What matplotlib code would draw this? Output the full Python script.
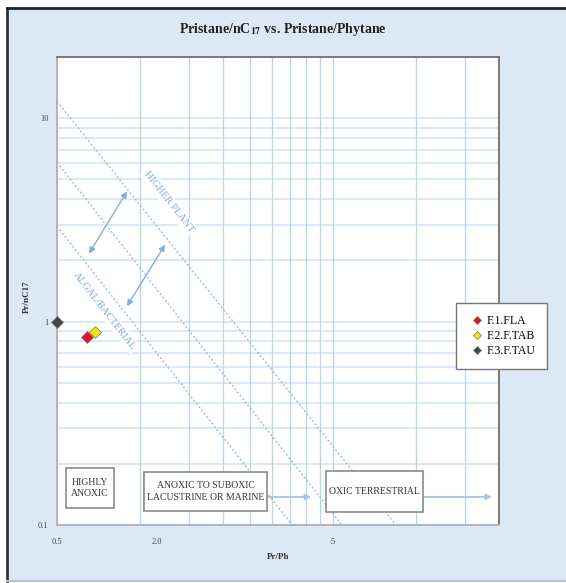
import matplotlib.pyplot as plt
from matplotlib.patches import Rectangle
from matplotlib.lines import Line2D

plt.rcParams['font.family'] = ['Liberation Serif', 'DejaVu Serif']
plt.rcParams['mathtext.fontset'] = 'stix'

# Samples (Pr/Ph, Pr/nC17)
samples = ["F.1.FLA", "F.2.F.TAB", "F.3.F.TAU"]
pr_ph = [0.642, 0.687, 0.5]
pr_nc17 = [0.84, 0.89, 1.0]
colors = ["#e3141c", "#f2e600", "#3f4a48"]

# dashed boundary lines: (x0, y0) -> (x1, y1) in data units
bound_x = [[0.5, 8.46], [0.5, 5.39], [0.5, 3.56]]
bound_y = [[12.1, 0.1], [6.07, 0.1], [2.94, 0.1]]

# double-headed arrows between the zones
arrows = [((0.653, 2.16), (0.897, 4.37)), ((0.897, 1.19), (1.232, 2.39))]

# grid positions
xgrid = [1, 1.5, 2, 2.5, 3, 3.5, 4, 4.5, 5, 10, 15]
ygrid = [d * m for d in (0.1, 1, 10) for m in range(1, 10)]

# tick labels as printed on the original
xticks = [0.5, 1.15, 5]
xticklabels = ["0.5", "2.0", "5"]
yticks = [0.1, 1, 10]
yticklabels = ["0.1", "1", "10"]

# environment boxes (axes fraction: x0, y0, x1, y1)
env_labels = ["HIGHLY\nANOXIC", "ANOXIC TO SUBOXIC\nLACUSTRINE OR MARINE", "OXIC TERRESTRIAL"]
env_boxes = [(0.020, 0.036, 0.129, 0.122), (0.197, 0.030, 0.475, 0.113),
             (0.609, 0.028, 0.828, 0.115)]
env_arrows = [(0.475, 0.575), (0.828, 0.984)]

bg = "#dce9f5"
fig = plt.figure(figsize=(5.66, 5.83), dpi=100)
fig.patch.set_facecolor("white")

# panel background with border
fig.add_artist(Rectangle((7 / 566, 2 / 583), 1.0, 573 / 583, transform=fig.transFigure,
                         facecolor=bg, edgecolor="none", zorder=-10))
fig.add_artist(Line2D([7 / 566, 7 / 566], [2 / 583, 575 / 583], color="#333333", lw=2.0,
                      zorder=-9))
fig.add_artist(Line2D([7 / 566, 1.0], [575 / 583, 575 / 583], color="#222222", lw=2.0,
                      zorder=-9))
fig.add_artist(Line2D([7 / 566, 1.0], [2 / 583, 2 / 583], color="#b8c4cf", lw=1.5,
                      zorder=-9))

ax = fig.add_axes([57 / 566, 58 / 583, 442 / 566, 468 / 583])
ax.set_facecolor("white")
ax.set_xscale("log")
ax.set_yscale("log")
ax.set_xlim(0.5, 20)
ax.set_ylim(0.1, 20)

for g in ygrid:
    ax.axhline(g, color="#dce8f5", lw=1.5, zorder=1)
for g in xgrid:
    ax.axvline(g, color="#bcd3ec", lw=0.9, zorder=1)

for bx, by in zip(bound_x, bound_y):
    ax.plot(bx, by, color="#9dbde0", lw=1.0, ls=(0, (1.5, 1.5)), zorder=2)

for (x0, y0), (x1, y1) in arrows:
    ax.annotate("", xy=(x1, y1), xytext=(x0, y0),
                arrowprops=dict(arrowstyle="<|-|>", color="#86ade0", lw=1.0,
                                mutation_scale=9, shrinkA=0, shrinkB=0), zorder=3)

ax.text(1.27, 3.86, "HIGHER PLANT", rotation=-52, color="#7fa7d8", fontsize=7.5,
        ha="center", va="center", rotation_mode="anchor", zorder=4,
        bbox=dict(facecolor="white", edgecolor="none", pad=1.5))
ax.text(0.744, 1.13, "ALGAL/BACTERIAL", rotation=-52, color="#7fa7d8", fontsize=7.5,
        ha="center", va="center", rotation_mode="anchor", zorder=4,
        bbox=dict(facecolor="white", edgecolor="none", pad=1.5))

for label, (x0, y0, x1, y1) in zip(env_labels, env_boxes):
    ax.add_patch(Rectangle((x0, y0), x1 - x0, y1 - y0, transform=ax.transAxes,
                           facecolor="white", edgecolor="#8a8a8a", lw=1.2, zorder=5))
    ax.text((x0 + x1) / 2, (y0 + y1) / 2, label, transform=ax.transAxes, fontsize=7,
            ha="center", va="center", linespacing=1.35, color="#333333", zorder=6)
for x0, x1 in env_arrows:
    ax.annotate("", xy=(x1, 0.060), xytext=(x0, 0.060), xycoords="axes fraction",
                arrowprops=dict(arrowstyle="-|>", color="#a9c6e8", lw=1.4,
                                mutation_scale=8, shrinkA=0, shrinkB=0), zorder=4)

for name, x, y, c in zip(samples, pr_ph, pr_nc17, colors):
    ax.plot(x, y, marker="D", ms=6, color=c, mec="#777777", mew=0.5, ls="none",
            label=name, clip_on=False, zorder=7)

ax.set_xticks(xticks)
ax.set_xticklabels(xticklabels)
ax.set_yticks(yticks)
ax.set_yticklabels(yticklabels)
ax.minorticks_off()
ax.tick_params(axis="both", length=0, labelsize=6, labelcolor="#444444")
ax.tick_params(axis="x", pad=9)
ax.tick_params(axis="y", pad=6)

for s in ("top", "right"):
    ax.spines[s].set_color("#666666")
    ax.spines[s].set_linewidth(1.2)
for s in ("left", "bottom"):
    ax.spines[s].set_color("#b5b5b5")
    ax.spines[s].set_linewidth(1.5)

leg = ax.legend(loc="upper left", bbox_to_anchor=(456 / 566, 1 - 303 / 583),
                bbox_transform=fig.transFigure, fontsize=8.5, frameon=True, fancybox=False,
                framealpha=1, edgecolor="#777777", handlelength=1.6, handletextpad=0.0,
                borderpad=1.0, borderaxespad=0, labelspacing=0.25, markerscale=0.75)
leg.get_frame().set_linewidth(1.0)
leg.set_zorder(10)

fig.text(0.5, 1 - 30 / 583, r"Pristane/nC$_\mathbf{17}$ vs. Pristane/Phytane", ha="center",
         va="center", fontsize=10, fontweight="bold", color="#222222")
fig.text(278 / 566, 1 - 557 / 583, "Pr/Ph", ha="center", va="center", fontsize=6.5,
         fontweight="bold", color="#333333")
fig.text(27 / 566, 1 - 297 / 583, "Pr/nC17", ha="center", va="center", fontsize=6.5,
         fontweight="bold", rotation=90, color="#333333")

fig.savefig("out.png", dpi=100)
